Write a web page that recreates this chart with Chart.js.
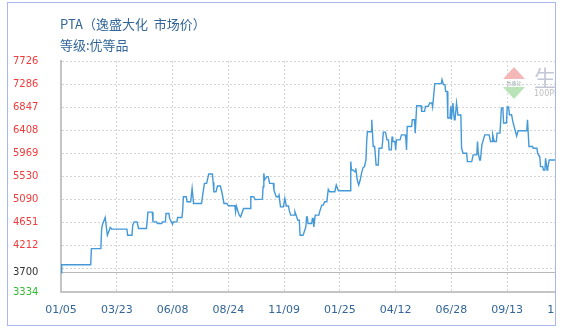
<!DOCTYPE html>
<html>
<head>
<meta charset="utf-8">
<script src="https://cdn.jsdelivr.net/npm/chart.js@4.4.1/dist/chart.umd.min.js"></script>
<style>
body { margin: 0; background: #fff; }
#box { position: absolute; left: 7px; top: 2px; width: 547px; height: 322px; border: 1px solid #a8b8ee; overflow: hidden; }
#cv { position: absolute; left: -8px; top: -3px; }
.title { position: absolute; left: 52px; font-size: 13px; line-height: 16px; font-family: "Noto Sans CJK SC"; color: #336699; white-space: nowrap; }
.up { position: absolute; left: 495px; top: 64px; width: 0; height: 0; border-left: 11px solid transparent; border-right: 11px solid transparent; border-bottom: 12px solid #f5b8b8; }
.down { position: absolute; left: 495px; top: 84px; width: 0; height: 0; border-left: 11px solid transparent; border-right: 11px solid transparent; border-top: 12px solid #b8e4b8; }
.band { position: absolute; left: 495px; top: 77px; width: 22px; font: 5px "Noto Sans CJK SC"; line-height: 6px; color: #9aa; text-align: center; }
.sheng { position: absolute; left: 526px; top: 60px; font: 22px "Noto Sans CJK SC"; line-height: 26px; color: #c4c8d6; }
.ppi { position: absolute; left: 526px; top: 86px; font: 8px "DejaVu Sans"; color: #c0c0c0; }
</style>
</head>
<body>
<div id="box">
  <canvas id="cv" width="620" height="334"></canvas>
  <div class="title" style="top:13px">PTA（逸盛大化&nbsp;&nbsp;市场价）</div>
  <div class="title" style="top:34px">等级:优等品</div>
  <div class="up"></div>
  <div class="band">生意社</div>
  <div class="down"></div>
  <div class="sheng">生</div>
  <div class="ppi">100PPI</div>
</div>
<script>
// 日期: 2021/01/05 起的天数
const dayStep = 77;
const xTickLabels = ['01/05', '03/23', '06/08', '08/24', '11/09', '01/25', '04/12', '06/28', '09/13', '11/29'];
const yTickLabels = [3334, 3700, 4212, 4651, 5090, 5530, 5969, 6408, 6847, 7286, 7726];
const yGridOnly = [3773];
const basePrice = 3700;

const days = [
  0, 1, 41, 42, 55, 56, 57, 61, 64, 68,
  70, 91, 92, 98, 99, 101, 105, 107, 118, 120,
  126, 127, 132, 133, 139, 140, 144, 145, 149, 150,
  154, 155, 160, 161, 167, 168, 169, 173, 174, 179,
  181, 183, 194, 196, 198, 201, 204, 209, 210, 211,
  214, 216, 220, 222, 225, 229, 231, 240, 241, 242,
  246, 248, 252, 261, 262, 266, 268, 278, 279, 280,
  281, 284, 286, 288, 293, 294, 297, 300, 301, 303,
  307, 309, 311, 314, 315, 317, 322, 323, 325, 327,
  329, 330, 334, 335, 338, 339, 340, 341, 346, 347,
  348, 349, 351, 356, 357, 360, 362, 364, 367, 368,
  369, 371, 378, 380, 381, 383, 399, 400, 401, 403,
  406, 407, 409, 411, 413, 415, 417, 419, 421, 422,
  423, 428, 429, 430, 431, 433, 435, 438, 439, 443,
  444, 445, 448, 450, 452, 453, 456, 457, 458, 461,
  462, 463, 468, 470, 475, 476, 477, 478, 484, 485,
  488, 489, 491, 497, 498, 502, 503, 507, 509, 512,
  513, 516, 525, 526, 528, 530, 531, 533, 534, 537,
  538, 539, 541, 543, 544, 546, 548, 552, 553, 555,
  560, 561, 567, 569, 574, 575, 576, 578, 579, 581,
  585, 591, 593, 595, 596, 598, 601, 602, 606, 608,
  610, 611, 615, 616, 618, 619, 622, 624, 629, 631,
  643, 644, 646, 651, 652, 657, 658, 661, 662, 665,
  666, 668, 669, 671, 672, 674, 682
];

const prices = [
  3700, 3853, 3853, 4159, 4159, 4508, 4604, 4751, 4413, 4560,
  4530, 4530, 4413, 4413, 4604, 4667, 4667, 4541, 4541, 4852,
  4852, 4667, 4667, 4636, 4636, 4667, 4667, 4827, 4827, 4732,
  4623, 4667, 4667, 4751, 4751, 4890, 5144, 5144, 5049, 5049,
  5305, 5018, 5018, 5220, 5400, 5400, 5578, 5578, 5419, 5240,
  5240, 5348, 5348, 5240, 5018, 5018, 4973, 4973, 4858, 4973,
  4795, 4763, 4923, 4923, 5144, 5144, 5090, 5100, 5335, 5591,
  5463, 5527, 5527, 5400, 5400, 5272, 5144, 5144, 5177, 4953,
  4953, 5114, 4970, 4970, 4890, 4795, 4795, 4858, 4776, 4699,
  4699, 4413, 4413, 4446, 4571, 4763, 4763, 4636, 4636, 4732,
  4732, 4571, 4795, 4795, 4858, 4986, 4986, 5049, 5049, 5177,
  5286, 5240, 5240, 5368, 5368, 5259, 5259, 5813, 5654, 5654,
  5620, 5686, 5463, 5368, 5463, 5600, 5700, 5720, 5845, 6195,
  6380, 6380, 6609, 6355, 6099, 6099, 5750, 5750, 6068, 6068,
  6195, 6374, 6374, 6227, 6227, 6036, 6036, 6290, 6195, 6195,
  6036, 6227, 6227, 6322, 6322, 6259, 6036, 6481, 6481, 6609,
  6609, 6355, 6876, 6876, 6768, 6768, 6863, 6863, 6928, 6928,
  6850, 7296, 7296, 7372, 7277, 7277, 7149, 7149, 6641, 6641,
  6863, 6609, 6928, 6609, 6609, 6928, 6700, 6700, 6068, 5973,
  5973, 5813, 5813, 5941, 5941, 6195, 5973, 5845, 5845, 6131,
  6322, 6322, 6195, 6195, 6322, 6195, 6195, 6355, 6355, 6832,
  6832, 6546, 6546, 6851, 6851, 6704, 6704, 6560, 6300, 6400,
  6400, 6609, 6099, 6099, 6068, 6068, 5973, 5900, 5717, 5717,
  5654, 5654, 5877, 5654, 5700, 5845, 5845
];

const points = days.map((d, i) => ({ x: d, y: prices[i] }));

function yColor(ctx) {
  const v = ctx.tick.value;
  if (v > basePrice) return '#f03c3c';
  if (v == basePrice) return '#333333';
  return '#33bb33';
}

new Chart(document.getElementById('cv'), {
  type: 'line',
  data: {
    datasets: [{
      data: points,
      borderColor: '#4499d8',
      borderWidth: 1.4,
      pointRadius: 0,
      tension: 0,
    }],
  },
  options: {
    responsive: false,
    animation: false,
    layout: { padding: { left: 13, top: 61, right: 57, bottom: 0 } },
    plugins: { legend: { display: false }, tooltip: { enabled: false } },
    scales: {
      x: {
        type: 'linear',
        min: 0,
        max: dayStep * (xTickLabels.length - 1),
        afterBuildTicks: (s) => { s.ticks = xTickLabels.map((t, i) => ({ value: i * dayStep })); },
        afterFit: (s) => { s.height = 42; },
        ticks: {
          callback: (v, i) => xTickLabels[i],
          color: '#336699',
          font: { family: 'DejaVu Sans', size: 11 },
          padding: 12,
          maxRotation: 0,
          autoSkip: false,
        },
        grid: { color: '#d4d4d4', drawTicks: false },
        border: { color: '#c4c4c4', width: 2, dash: (ctx) => ctx.tick ? [2, 2] : [] },
      },
      y: {
        min: 3334,
        max: 7726,
        afterBuildTicks: (s) => {
          s.ticks = yTickLabels.concat(yGridOnly).sort((a, b) => a - b).map(v => ({ value: v }));
        },
        afterFit: (s) => { s.width = 48; },
        ticks: {
          callback: (v) => yGridOnly.includes(v) ? '' : String(v),
          color: yColor,
          crossAlign: 'far',
          padding: 0,
          font: { family: 'DejaVu Sans', size: 10 },
        },
        grid: {
          color: (ctx) => (ctx.tick && ctx.tick.value == basePrice) ? '#b8b8b8' : '#d4d4d4',
          drawTicks: false,
        },
        border: {
          color: '#c4c4c4',
          width: 2,
          dash: (ctx) => (ctx.tick && ctx.tick.value != basePrice) ? [2, 2] : [],
        },
      },
    },
  },
});
</script>
</body>
</html>
